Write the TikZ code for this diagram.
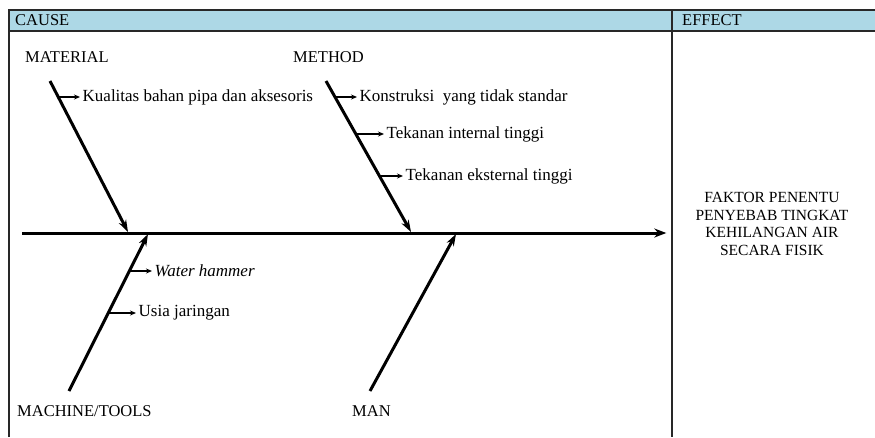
\documentclass[tikz,border=0pt]{standalone}
\usepackage{fontspec}
\setmainfont{Liberation Serif}
\usetikzlibrary{arrows.meta,calc}
\definecolor{headblue}{RGB}{173,216,230}
\definecolor{framegray}{RGB}{40,40,40}
\tikzset{
  lbl/.style={anchor=west,inner sep=0pt,font=\fontsize{16.5}{19}\selectfont,text=black},
  sub/.style={anchor=west,inner sep=2.5pt,font=\fontsize{17}{20}\selectfont,text=black},
  bone/.style={line width=3pt,-{Stealth[length=12pt,width=8pt]}},
  twig/.style={line width=1.1pt,-{Stealth[length=6pt,width=5pt]}},
  frame/.style={line width=1.5pt,draw=framegray}
}
\begin{document}
\begin{tikzpicture}[x=1pt,y=-1pt]
\useasboundingbox (0,0) rectangle (875,437);
% header and frame
\fill[headblue] (9,10) rectangle (875,31);
\draw[frame] (9,437) -- (9,10) -- (875,10);
\draw[frame] (9,31) -- (875,31);
\draw[frame] (672,10) -- (672,437);
\node[lbl] (cause) at (15,20.5) {CAUSE};
\node[lbl] (effect) at (682,20.5) {EFFECT};
% spine
\coordinate (s0) at (22,233);
\node[inner sep=0pt] (head) at (667,233) {};
\draw[line width=3pt,-{Stealth[length=12pt,width=9pt]}] (s0) -- (head);
% bone labels
\node[lbl] (material) at (25,57) {MATERIAL};
\node[lbl] (method) at (293,57) {METHOD};
\node[lbl] (machine) at (17,411) {MACHINE/TOOLS};
\node[lbl] (man) at (352,411) {MAN};
% bones
\coordinate (ma1) at (50,81);  \coordinate (ma2) at (128,232);
\coordinate (me1) at (326,81); \coordinate (me2) at (411,232);
\coordinate (mc1) at (69,391); \coordinate (mc2) at (148,234);
\coordinate (mn1) at (370,391);\coordinate (mn2) at (456,234);
\draw[bone] (ma1) -- (ma2);
\draw[bone] (me1) -- (me2);
\draw[bone] (mc1) -- (mc2);
\draw[bone] (mn1) -- (mn2);
% sub causes
\coordinate (b1) at (58,97);
\node[sub] (t1) at (80,97) {Kualitas bahan pipa dan aksesoris};
\coordinate (b2) at (335,97);
\node[sub] (t2) at (357,97) {Konstruksi\ \ yang tidak standar};
\coordinate (b3) at (356,134);
\node[sub] (t3) at (384,134) {Tekanan internal tinggi};
\coordinate (b4) at (380,176);
\node[sub] (t4) at (403,176) {Tekanan eksternal tinggi};
\coordinate (b5) at (130,271);
\node[sub] (t5) at (152,271) {\itshape Water hammer};
\coordinate (b6) at (109,313);
\node[sub] (t6) at (136,313) {Usia jaringan};
\foreach \a/\b in {b1/t1,b2/t2,b3/t3,b4/t4,b5/t5,b6/t6}
  \draw[twig] (\a) -- (\b.west);
% effect
\node[align=center,inner sep=0pt,font=\fontsize{15.5}{17.5}\selectfont,text=black] (eff) at (772,224)
  {FAKTOR PENENTU\\PENYEBAB TINGKAT\\KEHILANGAN AIR\\SECARA FISIK};
\end{tikzpicture}
\end{document}
